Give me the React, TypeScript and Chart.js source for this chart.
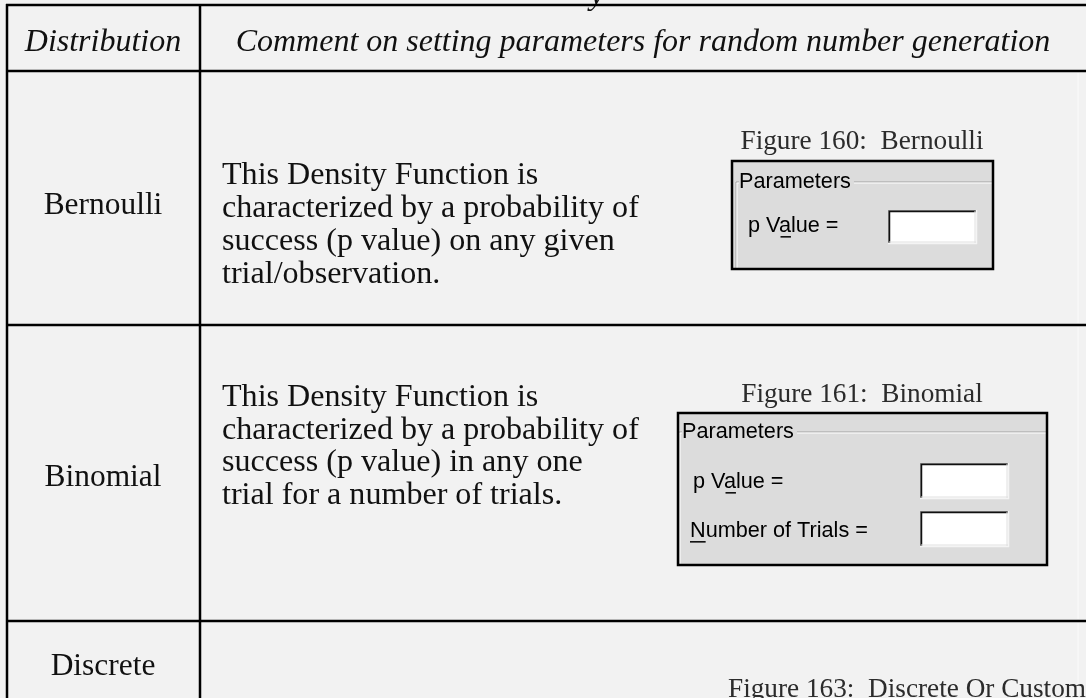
import React, { useEffect, useRef } from "react";
import { Chart, registerables } from "chart.js";

Chart.register(...registerables);

const W = 1086;
const H = 698;

// ---- content ----
const headerLabels = ["Distribution", "Comment on setting parameters for random number generation"];
const distributions = ["Bernoulli", "Binomial", "Discrete"];
const bernoulliComment = [
  "This Density Function is",
  "characterized by a probability of",
  "success (p value) on any given",
  "trial/observation.",
];
const binomialComment = [
  "This Density Function is",
  "characterized by a probability of",
  "success (p value) in any one",
  "trial for a number of trials.",
];
const figureCaptions = ["Figure 160:  Bernoulli", "Figure 161:  Binomial", "Figure 163:  Discrete Or Custom"];
const groupTitle = "Parameters";
const bernoulliFields = ["p Value ="];
const binomialFields = ["p Value =", "Number of Trials ="];
const fieldMnemonics = { "p Value =": 3, "Number of Trials =": 0 } as Record<string, number>;

export default function App() {
  const ref = useRef<HTMLCanvasElement>(null);

  useEffect(() => {
    document.body.style.margin = "0";
    const canvas = ref.current!;

    const plugin = {
      id: "docTable",
      beforeDraw(chart: any) {
        const ctx = chart.ctx as CanvasRenderingContext2D;
        ctx.save();
        ctx.fillStyle = "#f2f2f2";
        ctx.fillRect(0, 0, chart.width, chart.height);
        ctx.restore();
      },
      afterDraw(chart: any) {
        const ctx = chart.ctx as CanvasRenderingContext2D;
        const xs = chart.scales.x;
        const ys = chart.scales.y;
        const px = (v: number) => xs.getPixelForValue(v);
        const py = (v: number) => ys.getPixelForValue(v);

        const fit = (text: string, tpl: (s: number) => string, target: number) => {
          ctx.font = tpl(100);
          const w = ctx.measureText(text).width;
          return (100 * target) / w;
        };
        const serif = (s: number) => `${s}px "Liberation Serif"`;
        const serifIt = (s: number) => `italic ${s}px "Liberation Serif"`;
        const sans = (s: number) => `${s}px "Liberation Sans"`;

        const bodySize = fit(bernoulliComment[1], serif, 417);
        const headSize = fit(headerLabels[1], serifIt, 815);
        const labelSize = fit(distributions[1], serif, 117);
        const capSize = fit(figureCaptions[0], serif, 243);
        const dlgSize = fit(binomialFields[1], sans, 178);

        const line = (x0: number, y0: number, x1: number, y1: number, color: string, w: number) => {
          ctx.beginPath();
          ctx.strokeStyle = color;
          ctx.lineWidth = w;
          ctx.moveTo(px(x0), py(y0));
          ctx.lineTo(px(x1), py(y1));
          ctx.stroke();
        };
        const text = (s: string, x: number, y: number, font: string, align: CanvasTextAlign, color: string) => {
          ctx.font = font;
          ctx.textAlign = align;
          ctx.textBaseline = "middle";
          ctx.fillStyle = color;
          ctx.fillText(s, px(x), py(y));
        };

        ctx.save();

        // cut-off line of text above the table
        text("y", 590, -4, serifIt(headSize), "left", "#111");

        // table rules
        const lw = 2.5;
        const left = 7;
        const divider = 200;
        const rowLines = [5, 71, 325, 621];
        rowLines.forEach((y) => line(left - 1, y, W, y, "#000", lw));
        line(left, 4, left, H, "#000", lw);
        line(divider, 4, divider, H, "#000", lw);
        line(1078, 73, 1078, 323, "#fbfbfb", 1);
        line(1078, 327, 1078, 619, "#fbfbfb", 1);
        line(1078, 623, 1078, H, "#fbfbfb", 1);

        // header
        text(headerLabels[0], 103, 43, serifIt(headSize), "center", "#111");
        text(headerLabels[1], 643, 43, serifIt(headSize), "center", "#111");

        // distribution names
        const labelY = [206, 478, 667];
        distributions.forEach((d, i) => text(d, 103, labelY[i], serif(labelSize), "center", "#111"));

        // comments
        bernoulliComment.forEach((s, i) => text(s, 222, 176 + i * 33, serif(bodySize), "left", "#111"));
        binomialComment.forEach((s, i) => text(s, 222, 398 + i * 32.5, serif(bodySize), "left", "#111"));

        // captions
        const capPos = [
          [862, 142],
          [862, 395],
          [907, 690],
        ];
        figureCaptions.forEach((c, i) => text(c, capPos[i][0], capPos[i][1], serif(capSize), "center", "#2b2b2b"));

        // dialogs
        const dialog = (o: {
          x0: number; y0: number; x1: number; y1: number;
          gx: number; gy: number;
          fields: string[]; fx: number[]; fy: number[];
          bx0: number; bx1: number; by: number[]; bh: number;
        }) => {
          ctx.fillStyle = "#dcdcdc";
          ctx.fillRect(px(o.x0), py(o.y0), px(o.x1) - px(o.x0), py(o.y1) - py(o.y0));
          // group frame (etched)
          line(o.gx, o.gy, o.x1, o.gy, "#a0a0a0", 1);
          line(o.gx, o.gy + 1, o.x1, o.gy + 1, "#ffffff", 1);
          line(o.gx, o.gy, o.gx, o.y1, "#a0a0a0", 1);
          line(o.gx + 1, o.gy + 1, o.gx + 1, o.y1, "#ffffff", 1);
          ctx.font = sans(dlgSize);
          const tw = ctx.measureText(groupTitle).width;
          ctx.fillStyle = "#dcdcdc";
          ctx.fillRect(px(o.gx + 3), py(o.gy - 12), tw + 3, 24);
          text(groupTitle, o.gx + 3, o.gy, sans(dlgSize), "left", "#000");
          // fields
          o.fields.forEach((f, i) => {
            text(f, o.fx[i], o.fy[i], sans(dlgSize), "left", "#000");
            const k = fieldMnemonics[f];
            if (k !== undefined) {
              ctx.font = sans(dlgSize);
              const a = ctx.measureText(f.slice(0, k)).width;
              const b = ctx.measureText(f.slice(0, k + 1)).width;
              const uy = o.fy[i] + dlgSize * 0.5;
              line(o.fx[i] + a, uy, o.fx[i] + b, uy, "#000", 1.5);
            }
          });
          // text boxes
          o.by.forEach((y) => {
            const x0 = o.bx0, x1 = o.bx1, y0 = y, y1 = y + o.bh;
            ctx.fillStyle = "#ffffff";
            ctx.fillRect(px(x0), py(y0), px(x1) - px(x0), py(y1) - py(y0));
            line(x0, y0 + 0.5, x1, y0 + 0.5, "#808080", 1);
            line(x0 + 0.5, y0, x0 + 0.5, y1, "#808080", 1);
            line(x0 + 1, y0 + 1.5, x1 - 1, y0 + 1.5, "#101010", 1.5);
            line(x0 + 1.5, y0 + 1, x0 + 1.5, y1 - 1, "#101010", 1.5);
            line(x0, y1 - 0.5, x1, y1 - 0.5, "#f4f4f4", 1.5);
            line(x1 - 0.5, y0, x1 - 0.5, y1, "#f4f4f4", 1.5);
            line(x0 + 1, y1 - 2, x1 - 1, y1 - 2, "#e0e0e0", 1);
            line(x1 - 2, y0 + 1, x1 - 2, y1 - 1, "#e0e0e0", 1);
          });
          // outer black frame
          ctx.strokeStyle = "#000";
          ctx.lineWidth = 2.5;
          ctx.strokeRect(px(o.x0), py(o.y0), px(o.x1) - px(o.x0), py(o.y1) - py(o.y0));
        };

        dialog({
          x0: 732, y0: 161, x1: 993, y1: 269,
          gx: 736, gy: 182,
          fields: bernoulliFields, fx: [748], fy: [226],
          bx0: 888, bx1: 977, by: [210], bh: 34,
        });
        dialog({
          x0: 678, y0: 413, x1: 1047, y1: 565,
          gx: 679, gy: 432,
          fields: binomialFields, fx: [693, 690], fy: [482, 531],
          bx0: 920, bx1: 1009, by: [463, 511], bh: 36,
        });

        ctx.restore();
      },
    };

    const chart = new Chart(canvas, {
      type: "scatter",
      data: { datasets: [{ data: [] }] },
      options: {
        responsive: false,
        animation: false,
        events: [],
        layout: { padding: 0 },
        plugins: { legend: { display: false }, tooltip: { enabled: false }, title: { display: false } },
        scales: {
          x: { type: "linear", min: 0, max: W, display: false },
          y: { type: "linear", min: 0, max: H, reverse: true, display: false },
        },
      },
      plugins: [plugin],
    });
    return () => chart.destroy();
  }, []);

  return (
    <div style={{ width: W, height: H, background: "#f2f2f2", overflow: "hidden" }}>
      <canvas ref={ref} width={W} height={H} style={{ display: "block", width: W, height: H }} />
    </div>
  );
}
